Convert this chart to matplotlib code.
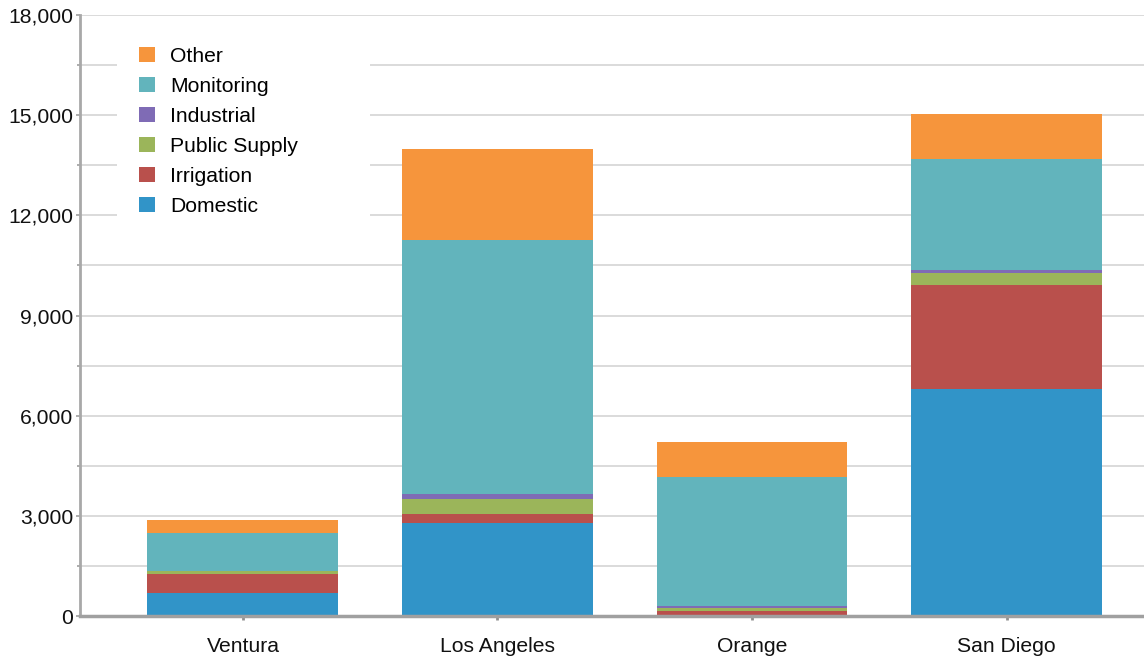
import matplotlib
matplotlib.use("Agg")
import matplotlib.pyplot as plt
from matplotlib.patches import Rectangle
from matplotlib.ticker import MultipleLocator, FuncFormatter

counties = ["Ventura", "Los Angeles", "Orange", "San Diego"]
domestic = [690, 2800, 30, 6800]
irrigation = [560, 250, 130, 3120]
public_supply = [90, 450, 90, 360]
industrial = [20, 140, 50, 70]
monitoring = [1120, 7610, 3850, 3350]
other = [410, 2730, 1070, 1330]

series = [
    ("Domestic", domestic, "#3194c8"),
    ("Irrigation", irrigation, "#b9504c"),
    ("Public Supply", public_supply, "#9bb55a"),
    ("Industrial", industrial, "#7f6bb5"),
    ("Monitoring", monitoring, "#62b4bc"),
    ("Other", other, "#f6953c"),
]

plt.rcParams["font.family"] = ["Liberation Sans", "DejaVu Sans"]

fig = plt.figure(figsize=(11.44, 6.58), dpi=100)
ax = fig.add_axes([80 / 1144, 42 / 658, 1 - 80 / 1144, 601 / 658])
ax.set_axisbelow(True)

x = list(range(len(counties)))
bottom = [0] * len(counties)
for name, vals, col in series:
    ax.bar(x, vals, bottom=bottom, width=0.75, color=col, label=name, zorder=3)
    bottom = [b + v for b, v in zip(bottom, vals)]

ax.set_xlim(-0.64, 3.54)
ax.set_ylim(0, 18000)
ax.yaxis.set_major_locator(MultipleLocator(3000))
ax.yaxis.set_minor_locator(MultipleLocator(1500))
ax.yaxis.set_major_formatter(FuncFormatter(lambda v, p: f"{int(v):,}"))
ax.grid(axis="y", which="both", color="#d4d4d4", linewidth=1.2)
ax.set_xticks(x)
ax.set_xticklabels(counties)
ax.tick_params(axis="both", labelsize=15.2, colors="#111111")
ax.tick_params(axis="y", which="major", length=3, width=1.2, color="#a0a0a0", pad=2)
ax.tick_params(axis="y", which="minor", length=2, width=1.2, color="#a0a0a0")
ax.tick_params(axis="x", length=3, width=2, color="#909090", pad=12)

for s in ["top", "right"]:
    ax.spines[s].set_visible(False)
ax.spines["left"].set_color("#a8a8a8")
ax.spines["left"].set_linewidth(2)
ax.spines["left"].set_zorder(4)
ax.spines["bottom"].set_color("#a0a0a0")
ax.spines["bottom"].set_linewidth(2.5)
ax.spines["bottom"].set_zorder(4)

# white block behind the legend, covering the gridlines
ax.add_patch(Rectangle((0.0348, 0.65), 0.238, 0.325, transform=ax.transAxes,
                       facecolor="white", edgecolor="none", zorder=1))

handles, labels = ax.get_legend_handles_labels()
leg = ax.legend(handles[::-1], labels[::-1], loc="upper left",
                bbox_to_anchor=(0.034, 0.985), fontsize=15.2, frameon=False,
                handlelength=0.72, handleheight=0.72, handletextpad=0.75,
                labelspacing=0.52, borderpad=0.6)
leg.set_zorder(5)

fig.savefig("out.png", dpi=100)
